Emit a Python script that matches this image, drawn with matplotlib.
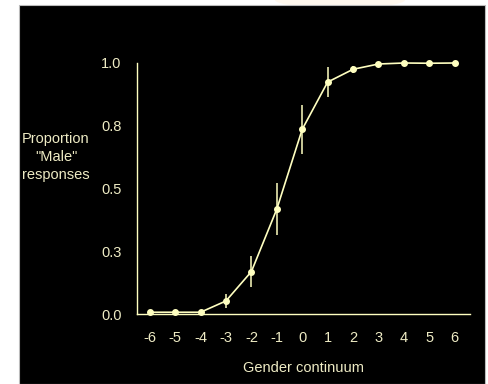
import matplotlib
matplotlib.use("Agg")
import matplotlib.pyplot as plt
from matplotlib.patches import Rectangle, Ellipse

plt.rcParams['font.family'] = ['Liberation Sans', 'DejaVu Sans']

x_vals = [-6, -5, -4, -3, -2, -1, 0, 1, 2, 3, 4, 5, 6]
proportion = [0.007, 0.007, 0.007, 0.052, 0.169, 0.418, 0.736, 0.924, 0.975, 0.996, 1.0, 0.999, 1.0]
errors = [0.0, 0.0, 0.0, 0.028, 0.063, 0.105, 0.098, 0.059, 0.015, 0.0, 0.0, 0.0, 0.0]
y_ticks = [0.0, 0.25, 0.5, 0.75, 1.0]
y_tick_labels = ["0.0", "0.3", "0.5", "0.8", "1.0"]

line_col = '#FFFFC0'
text_col = '#EEEBC4'
fs = 10.5

W, H = 488, 384
fig = plt.figure(figsize=(W / 100, H / 100), dpi=100, facecolor='white')

# black slide background
bg = fig.add_axes([0, 0, 1, 1], zorder=0)
bg.set_xlim(0, W)
bg.set_ylim(H, 0)
bg.axis('off')
bg.add_patch(Ellipse((340, 0), 130, 16, facecolor='#FFF8EE', edgecolor='none'))
bg.add_patch(Rectangle((19, 5), 485 - 19, H - 5, facecolor='black',
                       edgecolor='#BBBBBB', linewidth=0.8))

ax = fig.add_axes([137 / W, (H - 314) / H, (470 - 137) / W, (314 - 63) / H], zorder=2)
ax.set_facecolor('none')

ax.errorbar(x_vals, proportion, yerr=errors, color=line_col, ecolor=line_col,
            elinewidth=1.1, capsize=0, linewidth=1.2, marker='o', markersize=4,
            clip_on=False, zorder=3)

ax.set_xlim(-6.5, 6.6)
ax.set_ylim(0, 1.0)
ax.set_xticks(x_vals)
ax.set_xticklabels([str(v) for v in x_vals])
ax.set_yticks(y_ticks)
ax.set_yticklabels(y_tick_labels)
ax.tick_params(axis='both', length=0, colors=text_col, labelsize=fs)
ax.tick_params(axis='x', pad=12)
ax.tick_params(axis='y', pad=11)

for s in ['top', 'right']:
    ax.spines[s].set_visible(False)
for s in ['left', 'bottom']:
    ax.spines[s].set_color(line_col)
    ax.spines[s].set_linewidth(1.0)

ax.set_xlabel('Gender continuum', color=text_col, fontsize=fs, labelpad=12)

fig.text(56 / W, (H - 157) / H, 'Proportion\n"Male"\nresponses', color=text_col,
         fontsize=fs, ha='center', va='center', linespacing=1.35, zorder=3)

fig.savefig('out.png', dpi=100, facecolor='white')
